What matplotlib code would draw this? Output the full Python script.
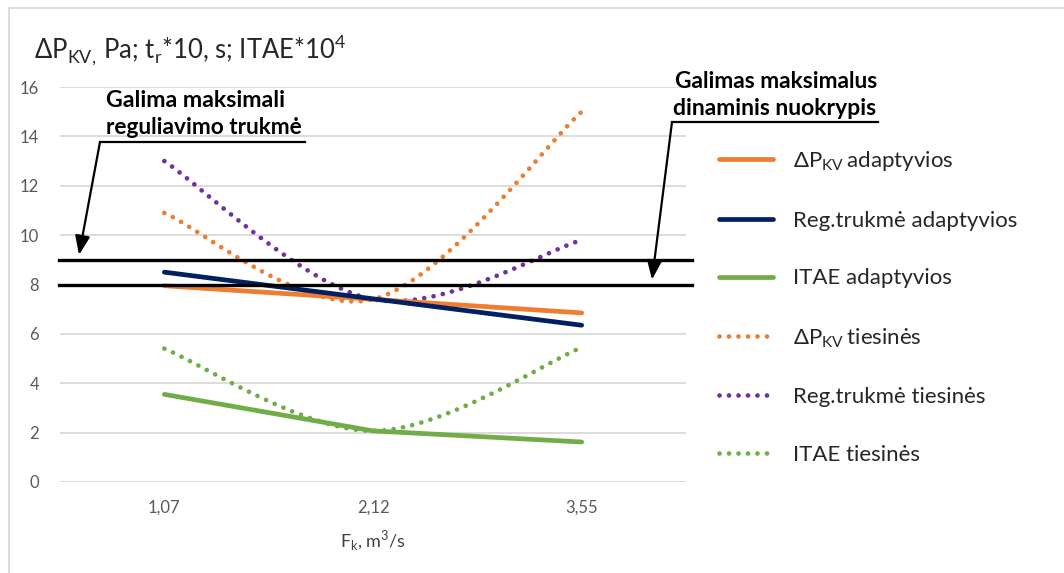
import numpy as np
import matplotlib
matplotlib.use("Agg")
import matplotlib.pyplot as plt
from matplotlib.lines import Line2D
from matplotlib.patches import Rectangle

plt.rcParams['font.family'] = ['Lato', 'DejaVu Sans']
plt.rcParams['mathtext.fontset'] = 'custom'
plt.rcParams['mathtext.rm'] = 'Lato'

# ---- data -------------------------------------------------------------
categories = ["1,07", "2,12", "3,55"]

dp_adapt = [7.95, 7.40, 6.85]
reg_adapt = [8.50, 7.42, 6.35]
itae_adapt = [3.55, 2.07, 1.62]

dp_lin = [10.9, 7.40, 15.0]
reg_lin = [13.0, 7.40, 9.8]
itae_lin = [5.40, 2.07, 5.45]

limit_duration = 9   # max allowed settling time (t_r*10)
limit_overshoot = 8  # max allowed dynamic deviation

yticks = [0, 2, 4, 6, 8, 10, 12, 14, 16]

labels = [
    "ΔP$_{\\mathregular{KV}}\\,$adaptyvios",
    "Reg.trukmė adaptyvios",
    "ITAE adaptyvios",
    "ΔP$_{\\mathregular{KV}}\\,$tiesinės",
    "Reg.trukmė tiesinės",
    "ITAE tiesinės",
]

C_ORANGE = "#ED7D31"
C_NAVY = "#002060"
C_GREEN = "#70AD47"
C_PURPLE = "#7030A0"
C_TEXT = "#262626"

W, H = 1064, 573
fig = plt.figure(figsize=(W / 100, H / 100), dpi=100)
renderer = fig.canvas.get_renderer()
ax = fig.add_axes([60 / W, 1 - 482 / H, 626 / W, 395 / H])

x = np.arange(len(categories))


def fx(px):
    return px / W


def fy(py):
    return 1 - py / H


def fit_width(t, width_px):
    """Scale a text's font size so it spans the given width in pixels."""
    w = t.get_window_extent(renderer).width
    t.set_fontsize(t.get_fontsize() * width_px / w)
    return t


def smooth(xs, ys, n=60):
    """Bezier smoothing through the points (Catmull-Rom control points)."""
    P = np.column_stack([xs, ys]).astype(float)
    m = len(P)
    out = []
    for i in range(m - 1):
        p0 = P[max(i - 1, 0)]
        p1 = P[i]
        p2 = P[i + 1]
        p3 = P[min(i + 2, m - 1)]
        c1 = p1 + (p2 - p0) / 6
        c2 = p2 - (p3 - p1) / 6
        t = np.linspace(0, 1, n)[:, None]
        seg = ((1 - t) ** 3) * p1 + 3 * ((1 - t) ** 2) * t * c1 + 3 * (1 - t) * t ** 2 * c2 + t ** 3 * p2
        out.append(seg if i == 0 else seg[1:])
    s = np.vstack(out)
    return s[:, 0], s[:, 1]


lw = 3.4
dot = dict(lw=lw, linestyle=(0, (0.01, 2.0)), dash_capstyle="round", solid_capstyle="round")

# dotted (linear controller) curves
for ys, c in [(dp_lin, C_ORANGE), (reg_lin, C_PURPLE), (itae_lin, C_GREEN)]:
    sx, sy = smooth(x, ys)
    ax.plot(sx, sy, color=c, zorder=3, **dot)

# solid (adaptive controller) lines
for ys, c in [(dp_adapt, C_ORANGE), (reg_adapt, C_NAVY), (itae_adapt, C_GREEN)]:
    ax.plot(x, ys, color=c, lw=lw, solid_capstyle="round", zorder=4)

# limit lines
for yv in (limit_duration, limit_overshoot):
    ax.plot([-0.002, 1.01], [yv, yv], color="black", lw=2.4,
            transform=ax.get_yaxis_transform(), clip_on=False, zorder=5)

ax.set_xlim(-0.5, len(categories) - 0.5)
ax.set_ylim(0, 16)
ax.set_yticks(yticks)
ax.set_yticklabels([str(v) for v in yticks])
ax.set_xticks(x)
ax.set_xticklabels(categories)
ax.yaxis.grid(True, color="#D9D9D9", lw=1.3)
ax.set_axisbelow(True)
for s in ax.spines.values():
    s.set_visible(False)
ax.tick_params(length=0, labelsize=12, labelcolor="#595959")
ax.tick_params(axis="y", pad=15)
ax.tick_params(axis="x", pad=13)
xl = ax.set_xlabel("F$_{\\mathregular{k}}$, m$^{\\mathregular{3}}$/s", fontsize=12.5,
                   color="#404040", labelpad=9)
fit_width(xl, 66)

# axis caption above the plot
title = fig.text(fx(34), fy(58), "ΔP$_{\\mathregular{KV,}}\\,$Pa; t$_{\\mathregular{r}}$*10, s; ITAE*10$^{\\mathregular{4}}$",
                 fontsize=16, color=C_TEXT, va="baseline", ha="left")
fit_width(title, 312)

# outer chart border
fig.add_artist(Rectangle((9 / W, -0.05), 1.1, 1 - 8 / H + 0.05, transform=fig.transFigure,
                         fill=False, ec="#D9D9D9", lw=1.3))

bold = dict(fontsize=14, fontweight="bold", color="black", va="baseline", ha="left")
head = "-|>,head_length=1.15,head_width=0.45"

# annotation: max settling time
fit_width(fig.text(fx(106), fy(107), "Galima maksimali", **bold), 181)
fit_width(fig.text(fx(106), fy(134), "reguliavimo trukmė", **bold), 198)
fig.add_artist(Line2D([fx(305), fx(100)], [fy(142), fy(142)], transform=fig.transFigure,
                      color="black", lw=1.6))
ax.annotate("", xy=(79, limit_duration + 0.2), xycoords=("figure pixels", "data"),
            xytext=(100, fy(142)), textcoords=("figure pixels", "figure fraction"),
            arrowprops=dict(arrowstyle=head, color="black", lw=1.6, shrinkA=0, shrinkB=0),
            annotation_clip=False)

# annotation: max dynamic deviation
fit_width(fig.text(fx(675), fy(88), "Galimas maksimalus", **bold), 205)
fit_width(fig.text(fx(673), fy(115), "dinaminis nuokrypis", **bold), 204)
fig.add_artist(Line2D([fx(878), fx(672)], [fy(122), fy(122)], transform=fig.transFigure,
                      color="black", lw=1.6))
ax.annotate("", xy=(652, limit_overshoot + 0.2), xycoords=("figure pixels", "data"),
            xytext=(672, fy(122)), textcoords=("figure pixels", "figure fraction"),
            arrowprops=dict(arrowstyle=head, color="black", lw=1.6, shrinkA=0, shrinkB=0),
            annotation_clip=False)

# legend: font sized so the longest entry spans its width
probe = fig.text(0, 0, labels[1], fontsize=16)
fit_width(probe, 225)
leg_fs = probe.get_fontsize()
probe.remove()
fpx = leg_fs * 100 / 72
row_pitch = 59.6

handles = [
    Line2D([], [], color=C_ORANGE, lw=lw, solid_capstyle="round"),
    Line2D([], [], color=C_NAVY, lw=lw, solid_capstyle="round"),
    Line2D([], [], color=C_GREEN, lw=lw, solid_capstyle="round"),
    Line2D([], [], color=C_ORANGE, **dot),
    Line2D([], [], color=C_PURPLE, **dot),
    Line2D([], [], color=C_GREEN, **dot),
]
fig.legend(handles, labels, loc="upper left",
           bbox_to_anchor=(fx(719), fy(160 - 0.5 * 0.985 * fpx)),
           frameon=False, fontsize=leg_fs, labelcolor=C_TEXT,
           handlelength=54 / fpx, handletextpad=20 / fpx,
           labelspacing=row_pitch / fpx - 0.985, borderaxespad=0, borderpad=0)

fig.savefig("out.png", dpi=100, facecolor="white")
